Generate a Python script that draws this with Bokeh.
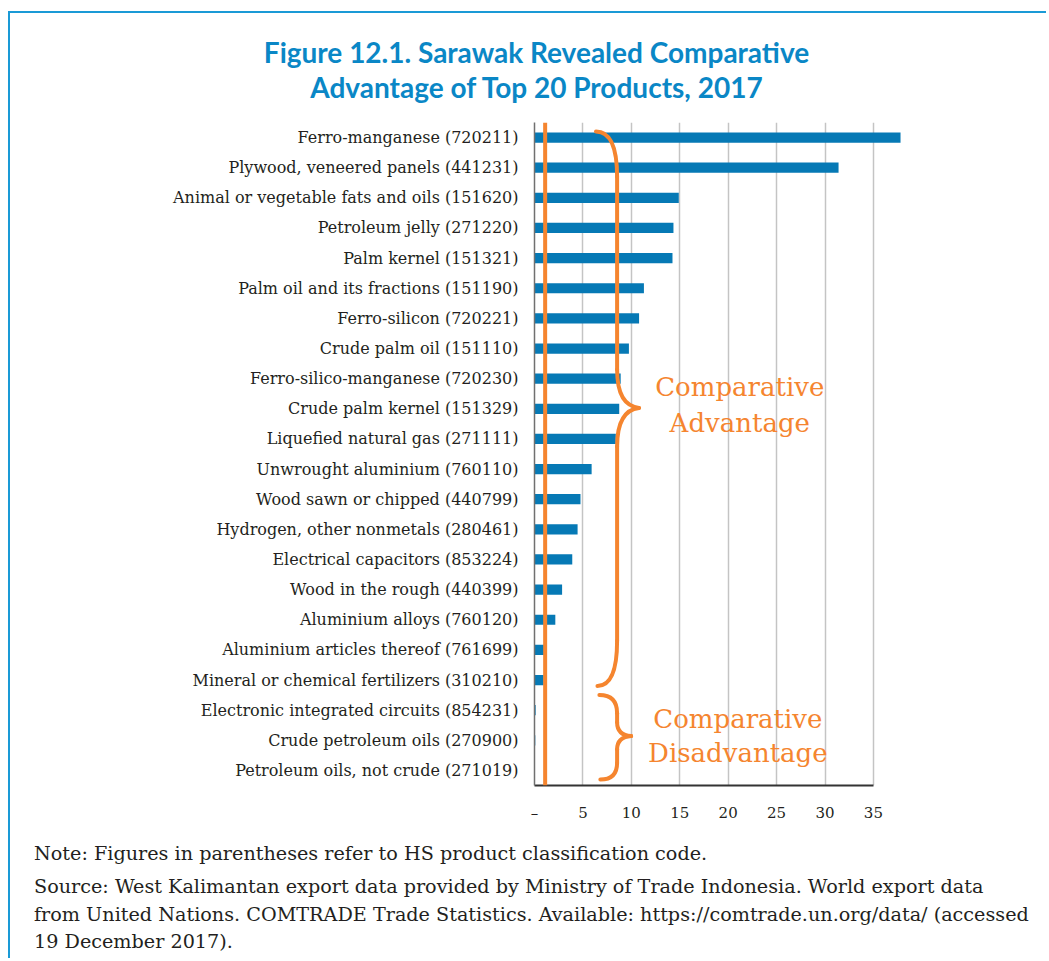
from bokeh.plotting import figure
from bokeh.models import Range1d, FixedTicker, Span, Div
from bokeh.layouts import column
from bokeh.embed import file_html
from bokeh.resources import INLINE
from bokeh.core.properties import value

# ---------------- data ----------------
products = [
    "Ferro-manganese (720211)",
    "Plywood, veneered panels (441231)",
    "Animal or vegetable fats and oils (151620)",
    "Petroleum jelly (271220)",
    "Palm kernel (151321)",
    "Palm oil and its fractions (151190)",
    "Ferro-silicon (720221)",
    "Crude palm oil (151110)",
    "Ferro-silico-manganese (720230)",
    "Crude palm kernel (151329)",
    "Liquefied natural gas (271111)",
    "Unwrought aluminium (760110)",
    "Wood sawn or chipped (440799)",
    "Hydrogen, other nonmetals (280461)",
    "Electrical capacitors (853224)",
    "Wood in the rough (440399)",
    "Aluminium alloys (760120)",
    "Aluminium articles thereof (761699)",
    "Mineral or chemical fertilizers (310210)",
    "Electronic integrated circuits (854231)",
    "Crude petroleum oils (270900)",
    "Petroleum oils, not crude (271019)",
]
rca = [37.8, 31.4, 14.9, 14.35, 14.25, 11.3, 10.8, 9.75, 8.9, 8.75, 8.4,
       5.9, 4.75, 4.45, 3.9, 2.85, 2.15, 1.0, 0.95, 0.12, 0.08, 0.03]

x_ticks = [0, 5, 10, 15, 20, 25, 30, 35]
x_tick_labels = ["\u2013", "5", "10", "15", "20", "25", "30", "35"]

title_lines = ["Figure 12.1. Sarawak Revealed Comparative",
               "Advantage of Top 20 Products, 2017"]
note_line = "Note: Figures in parentheses refer to HS product classification code."
source_lines = [
    "Source: West Kalimantan export data provided by Ministry of Trade Indonesia. World export data",
    "from United Nations. COMTRADE Trade Statistics. Available: https://comtrade.un.org/data/ (accessed",
    "19 December 2017).",
]
adv_text = ["Comparative", "Advantage"]
disadv_text = ["Comparative", "Disadvantage"]
threshold = 1.1

# ---------------- styling ----------------
BLUE = "#0679b5"
TITLE_BLUE = "#0a87c6"
FRAME_BLUE = "#1a9ad6"
ORANGE = "#f5852f"
TEXT = "#231f20"
SERIF = "DejaVu Serif"
W = 1036

idx = list(range(len(products)))

title_div = Div(
    width=W, height=101, margin=0,
    text=('<div style="font-family: Lato, sans-serif; font-weight: bold; font-size: 28px; '
          f'line-height: 35px; color: {TITLE_BLUE}; text-align: center; white-space: nowrap; '
          'padding-top: 22px; padding-left: 35px; width: 1018px;">'
          + "<br>".join(title_lines) + "</div>"),
)

p = figure(width=W, height=710, output_backend="svg", toolbar_location=None,
           x_range=Range1d(0, 37.9), y_range=Range1d(len(products) - 0.5, -0.5),
           min_border_left=524, min_border_right=145,
           min_border_top=8, min_border_bottom=30, margin=0)
p.outline_line_color = None
p.background_fill_color = "white"
p.border_fill_color = "white"

# grid
p.ygrid.visible = False
p.xgrid.ticker = FixedTicker(ticks=x_ticks[1:])
p.xgrid.grid_line_color = "#c4c4c4"
p.xgrid.grid_line_width = 1.5

# x axis
xa = p.xaxis[0]
xa.ticker = FixedTicker(ticks=x_ticks)
xa.major_label_overrides = dict(zip(x_ticks, x_tick_labels))
xa.bounds = (0, 35)
xa.axis_line_color = "#333333"
xa.axis_line_width = 2
xa.major_tick_line_color = None
xa.minor_tick_line_color = None
xa.major_label_standoff = 12
xa.major_label_text_font = SERIF
xa.major_label_text_font_size = "15px"
xa.major_label_text_color = TEXT

# y axis
ya = p.yaxis[0]
ya.ticker = FixedTicker(ticks=idx)
ya.major_label_overrides = {i: s for i, s in zip(idx, products)}
ya.axis_line_color = "#707070"
ya.axis_line_width = 1.5
ya.major_tick_line_color = None
ya.minor_tick_line_color = None
ya.major_label_standoff = 10
ya.major_label_text_font = SERIF
ya.major_label_text_font_size = "16px"
ya.major_label_text_color = TEXT

# bars
p.hbar(y=idx, left=0, right=rca, height=0.34, fill_color=BLUE, line_color=None)

# threshold line
p.add_layout(Span(location=threshold, dimension="height", line_color=ORANGE, line_width=4))

# braces
bw = dict(line_color=ORANGE, line_width=4, line_cap="round")
vx = 8.53
# upper brace
p.quadratic(x0=[6.35, vx, 10.8, vx], y0=[-0.2, 7.7, 8.97, 16.7],
            x1=[vx, 10.8, vx, 6.5], y1=[1.3, 8.97, 10.25, 18.2],
            cx=[vx, vx, vx, vx], cy=[-0.2, 8.9, 9.05, 18.2], **bw)
p.segment(x0=[vx, vx], y0=[1.3, 10.25], x1=[vx, vx], y1=[7.7, 16.7], **bw)
# lower brace
p.quadratic(x0=[6.7, vx, 9.98, vx], y0=[18.5, 19.4, 19.86, 20.75],
            x1=[vx, 9.98, vx, 6.8], y1=[19.1, 19.86, 20.3, 21.3],
            cx=[vx, vx, vx, vx], cy=[18.5, 19.83, 19.9, 21.3], **bw)
p.segment(x0=[vx, vx], y0=[19.1, 20.3], x1=[vx, vx], y1=[19.4, 20.75], **bw)

# brace texts
p.text(x=[21.2, 21.2], y=[8.29, 9.47], text=adv_text, text_font=value(SERIF),
       text_font_size="26px", text_color=ORANGE, text_align="center", text_baseline="alphabetic")
p.text(x=[21.0, 21.0], y=[19.28, 20.43], text=disadv_text, text_font=value(SERIF),
       text_font_size="26px", text_color=ORANGE, text_align="center", text_baseline="alphabetic")

notes_div = Div(
    width=W, height=134, margin=0,
    text=(f'<div style="font-family: \'{SERIF}\', serif; font-size: 19.2px; line-height: 27.5px; '
          f'color: {TEXT}; white-space: nowrap; padding-top: 16px; padding-left: 24px;">'
          f'<div style="margin-bottom: 5.5px;">{note_line}</div>'
          f'<div>{"<br>".join(source_lines)}</div></div>'),
)

layout = column(title_div, p, notes_div, margin=(11, 0, 0, 8), spacing=0,
                styles={"border-top": f"2px solid {FRAME_BLUE}",
                        "border-left": f"2px solid {FRAME_BLUE}"})

open("out.html", "w").write(file_html(layout, INLINE))
